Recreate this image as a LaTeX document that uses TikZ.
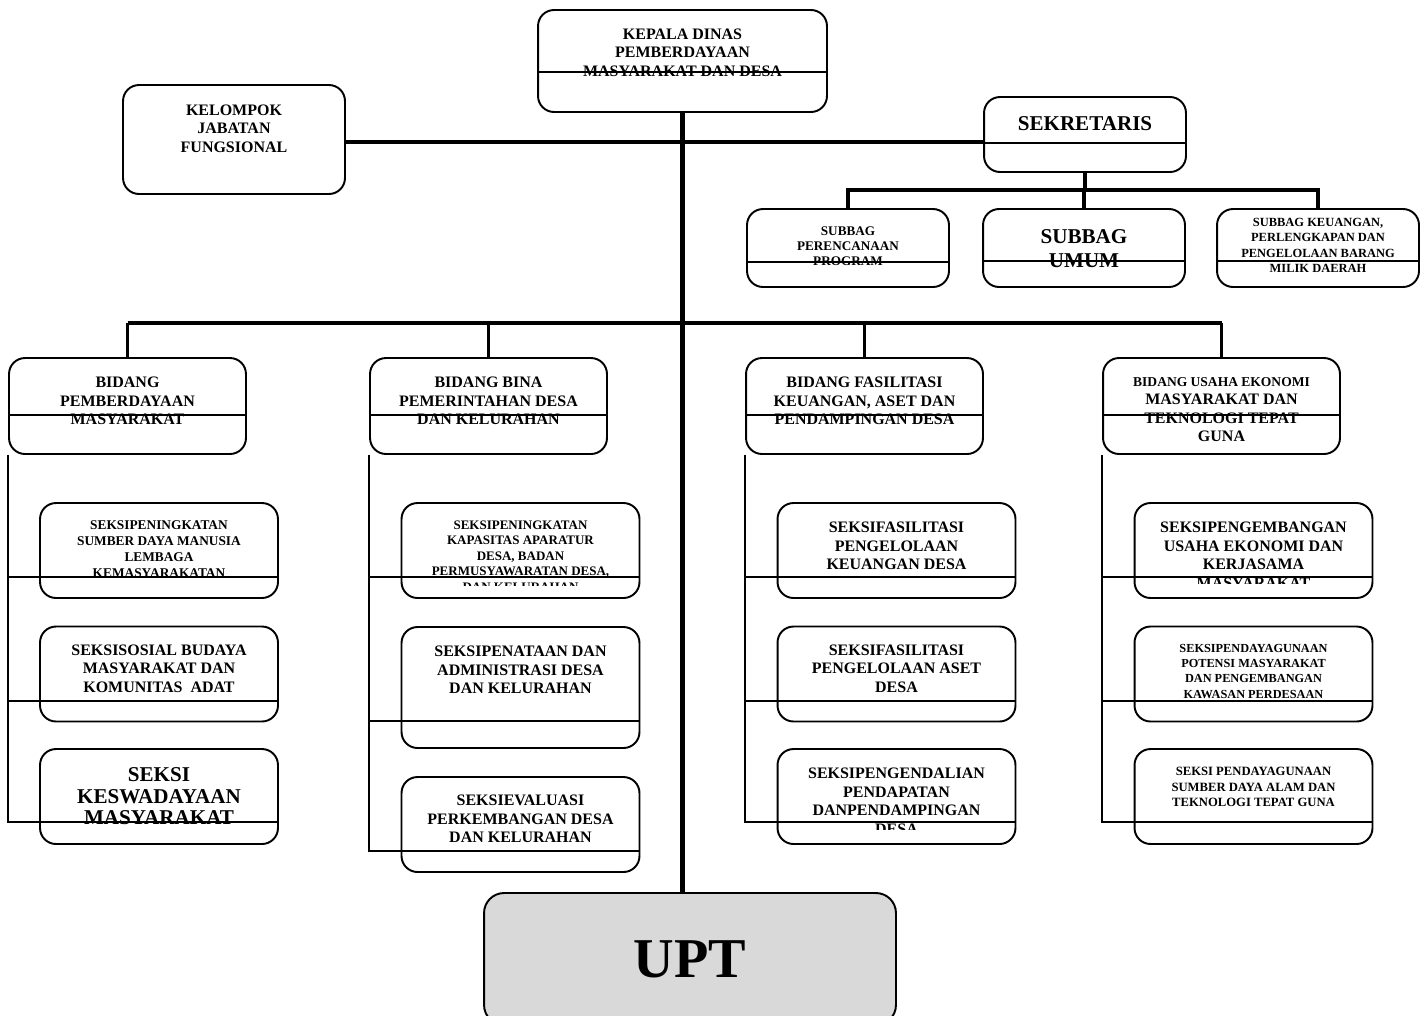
\documentclass[tikz,border=0pt]{standalone}
\usepackage{fontspec}
\setmainfont{Liberation Serif}
\usepackage{xcolor}
\definecolor{uptgray}{RGB}{217, 217, 217}
\usetikzlibrary{positioning}
\newcommand\fnorm{\fontsize{9.1}{10.5}\selectfont}
\newcommand\fsmall{\fontsize{7.4}{8.8}\selectfont}
\newcommand\fbig{\fontsize{12}{12.2}\selectfont}

\begin{document}
\begin{tikzpicture}[x=0.02cm, y=-0.02cm,
  orgbox/.style={draw, line width=1.1pt, rounded corners=0.32cm, fill=white, inner sep=0pt},
  bidbox/.style={orgbox, minimum width=4.74cm, minimum height=1.92cm},
  seksibox/.style={orgbox, minimum width=4.76cm, minimum height=1.9cm},
  subbox/.style={orgbox, minimum width=4.04cm, minimum height=1.56cm},
  lbl/.style={inner sep=0pt, align=center, font=\bfseries\fnorm},
  mainline/.style={line width=2.4pt},
  busline/.style={line width=1.8pt},
  thinline/.style={line width=1pt}
]
\useasboundingbox (0,0) rectangle (1426,1015);

\node[orgbox, minimum width=5.78cm, minimum height=2.04cm] (kadis) at (682.5, 61) {};
\node[lbl, below=0.39cm of kadis.north] (kadis-t) {KEPALA DINAS\\PEMBERDAYAAN\\MASYARAKAT DAN DESA};

\node[orgbox, minimum width=4.44cm, minimum height=2.18cm] (kjf) at (234, 139.5) {};
\node[lbl, below=0.41cm of kjf.north] (kjf-t) {KELOMPOK\\JABATAN\\FUNGSIONAL};

\node[orgbox, minimum width=4.04cm, minimum height=1.5cm] (sekr) at (1085, 134.5) {};
\node[lbl, font=\bfseries\fbig, below=0.41cm of sekr.north] (sekr-t) {SEKRETARIS};

\node[subbox] (sb1) at (848, 248) {};
\node[lbl, font=\bfseries\fontsize{7.5}{8.5}\selectfont, below=0.37cm of sb1.north] (sb1-t) {SUBBAG\\PERENCANAAN\\PROGRAM};
\node[subbox] (sb2) at (1084, 248) {};
\node[lbl, font=\bfseries\fontsize{12}{14}\selectfont, below=0.42cm of sb2.north] (sb2-t) {SUBBAG\\UMUM};
\node[subbox] (sb3) at (1318, 248) {};
\node[lbl, font=\bfseries\fontsize{7.1}{8.8}\selectfont, below=0.19cm of sb3.north] (sb3-t) {SUBBAG KEUANGAN,\\PERLENGKAPAN DAN\\PENGELOLAAN BARANG\\MILIK DAERAH};

\node[bidbox] (bd1) at (127.5, 406) {};
\node[lbl, below=0.4cm of bd1.north] (bd1-t) {BIDANG\\PEMBERDAYAAN\\MASYARAKAT};
\node[bidbox] (bd2) at (488.5, 406) {};
\node[lbl, below=0.4cm of bd2.north] (bd2-t) {BIDANG BINA\\PEMERINTAHAN DESA\\DAN KELURAHAN};
\node[bidbox] (bd3) at (864.5, 406) {};
\node[lbl, below=0.4cm of bd3.north] (bd3-t) {BIDANG FASILITASI\\KEUANGAN, ASET DAN\\PENDAMPINGAN DESA};
\node[bidbox] (bd4) at (1221.5, 406) {};
\node[lbl, below=0.4cm of bd4.north] (bd4-t) {{\fontsize{7.7}{8.8}\selectfont BIDANG USAHA EKONOMI}\\MASYARAKAT DAN\\TEKNOLOGI TEPAT\\GUNA};

\node[seksibox] (s11) at (159, 550.5) {};
\node[lbl, font=\bfseries\fontsize{7.6}{9}\selectfont, below=0.37cm of s11.north] (s11-t) {SEKSIPENINGKATAN\\SUMBER DAYA MANUSIA\\LEMBAGA\\KEMASYARAKATAN};
\node[seksibox] (s12) at (159, 674) {};
\node[lbl, below=0.38cm of s12.north] (s12-t) {SEKSISOSIAL BUDAYA\\MASYARAKAT DAN\\KOMUNITAS\ \ ADAT};
\node[seksibox] (s13) at (159, 796.5) {};
\node[lbl, font=\bfseries\fbig, below=0.39cm of s13.north] (s13-t) {SEKSI\\KESWADAYAAN\\MASYARAKAT};

\node[seksibox] (s21) at (520.5, 550.5) {};
\begin{scope}
  \clip (402, 503) rectangle (639, 585);
  \node[lbl, font=\bfseries\fsmall, below=0.37cm of s21.north] (s21-t) {SEKSIPENINGKATAN\\KAPASITAS APARATUR\\DESA, BADAN\\PERMUSYAWARATAN DESA,\\DAN KELURAHAN};
\end{scope}
\node[seksibox, minimum height=2.42cm] (s22) at (520.5, 687.5) {};
\node[lbl, below=0.4cm of s22.north] (s22-t) {SEKSIPENATAAN DAN\\ADMINISTRASI DESA\\DAN KELURAHAN};
\node[seksibox] (s23) at (520.5, 824.5) {};
\node[lbl, below=0.38cm of s23.north] (s23-t) {SEKSIEVALUASI\\PERKEMBANGAN DESA\\DAN KELURAHAN};

\node[seksibox] (s31) at (896.5, 550.5) {};
\node[lbl, below=0.4cm of s31.north] (s31-t) {SEKSIFASILITASI\\PENGELOLAAN\\KEUANGAN DESA};
\node[seksibox] (s32) at (896.5, 674) {};
\node[lbl, below=0.38cm of s32.north] (s32-t) {SEKSIFASILITASI\\PENGELOLAAN ASET\\DESA};
\node[seksibox] (s33) at (896.5, 796.5) {};
\begin{scope}
  \clip (778, 749) rectangle (1015, 829);
  \node[lbl, below=0.4cm of s33.north] (s33-t) {SEKSIPENGENDALIAN\\PENDAPATAN\\DANPENDAMPINGAN\\DESA};
\end{scope}

\node[seksibox] (s41) at (1253.5, 550.5) {};
\begin{scope}
  \clip (1135, 503) rectangle (1372, 583);
  \node[lbl, below=0.4cm of s41.north] (s41-t) {SEKSIPENGEMBANGAN\\USAHA EKONOMI DAN\\KERJASAMA\\MASYARAKAT};
\end{scope}
\node[seksibox] (s42) at (1253.5, 674) {};
\node[lbl, font=\bfseries\fontsize{7}{8.8}\selectfont, below=0.36cm of s42.north] (s42-t) {SEKSIPENDAYAGUNAAN\\POTENSI MASYARAKAT\\DAN PENGEMBANGAN\\KAWASAN PERDESAAN};
\node[seksibox] (s43) at (1253.5, 796.5) {};
\node[lbl, font=\bfseries\fontsize{7.2}{8.8}\selectfont, below=0.38cm of s43.north] (s43-t) {SEKSI PENDAYAGUNAAN\\SUMBER DAYA ALAM DAN\\TEKNOLOGI TEPAT GUNA};

\node[orgbox, fill=uptgray, rounded corners=0.4cm, minimum width=8.24cm, minimum height=2.64cm, font=\bfseries\fontsize{32}{32}\selectfont] (upt) at (690, 959) {UPT};

\coordinate (sbus) at (1085, 190);
\coordinate (bbus) at (683, 323);

\draw[mainline] (kadis.south) -- (kadis.south |- upt.north);
\draw[mainline] (kjf.east |- 0,142) -- (sekr.west |- 0,142);
\draw[busline] (sekr.south) -- (sbus);
\draw[busline] (sb1.north) |- (sbus) -| (sb3.north);
\draw[busline] (sb2.north) -- (sb2.north |- sbus);
\draw[mainline, line width=2.6pt] (bd1.north |- bbus) -- (bd4.north |- bbus);
\foreach \bx in {bd1, bd2, bd3, bd4}
  \draw[busline] (\bx.north) -- (\bx.north |- bbus);

\foreach \bx/\ry in {kadis/72, sekr/143, sb1/262, sb2/261, sb3/261, bd1/415, bd2/415, bd3/415, bd4/415}
  \draw[thinline] (\bx.west |- 0,\ry) -- (\bx.east |- 0,\ry);

\foreach \bd/\sk/\ry in {bd1/s11/577, bd1/s12/701, bd1/s13/822, bd2/s21/577, bd2/s22/721, bd2/s23/851, bd3/s31/577, bd3/s32/701, bd3/s33/822, bd4/s41/577, bd4/s42/701, bd4/s43/822}
  \draw[thinline] (\bd.south west) |- (\sk.east |- 0,\ry);
\end{tikzpicture}
\end{document}
